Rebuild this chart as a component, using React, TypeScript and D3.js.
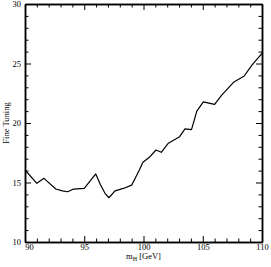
import React, { useEffect, useRef } from 'react'
import { select, scaleLinear, line, axisBottom, axisLeft, axisTop, axisRight, range } from 'd3'

const massValues = [
  90, 91.0, 91.6, 92.6, 93.15, 93.6, 94.1, 95.0, 95.97, 96.35, 96.75, 97.08, 97.6, 98.3, 99.0,
  99.3, 99.65, 99.95, 100.55, 101.05, 101.5, 102.1, 103.05, 103.5, 104.05, 104.5, 105.05, 106.0,
  106.6, 107.6, 108.5, 109.15, 110,
]
const fineTuning = [
  16.05, 14.93, 15.35, 14.45, 14.3, 14.22, 14.45, 14.5, 15.72, 14.85, 14.09, 13.72, 14.3, 14.5, 14.78,
  15.35, 16.05, 16.7, 17.17, 17.73, 17.54, 18.3, 18.85, 19.5, 19.45, 21.0, 21.78, 21.57,
  22.35, 23.42, 23.95, 24.87, 25.86,
]
const xMajorTicks = [90, 95, 100, 105, 110]
const yMajorTicks = [10, 15, 20, 25, 30]

const W = 271
const H = 267
const margin = { left: 25, top: 4, right: 9, bottom: 25 }
const FONT = '"Liberation Serif", "DejaVu Serif", serif'

export default function App() {
  const svgRef = useRef<SVGSVGElement>(null)

  useEffect(() => {
    const svg = select(svgRef.current)
    svg.selectAll('*').remove()
    const innerW = W - margin.left - margin.right
    const innerH = H - margin.top - margin.bottom

    const x = scaleLinear().domain([90, 110]).range([0, innerW])
    const y = scaleLinear().domain([10, 30]).range([innerH, 0])

    const g = svg.append('g').attr('transform', `translate(${margin.left},${margin.top})`)

    const minorX = range(90, 111, 1).filter((v) => !xMajorTicks.includes(v))
    const minorY = range(10, 31, 1).filter((v) => !yMajorTicks.includes(v))

    const styleAxis = (sel: any) => {
      sel.selectAll('path.domain').attr('stroke', '#000').attr('stroke-width', 1.5)
      sel.selectAll('.tick line').attr('stroke', '#000').attr('stroke-width', 1)
      sel.selectAll('text').attr('fill', '#000').style('font-family', FONT).style('font-size', '8.5px')
    }

    // bottom
    const bottom = g.append('g').attr('transform', `translate(0,${innerH})`)
    bottom.call(axisBottom(x).tickValues(xMajorTicks).tickSize(-6).tickSizeOuter(0).tickPadding(1.5).tickFormat((d: any) => `${d}`))
    bottom.call(styleAxis)
    bottom.selectAll('.tick text').filter((d: any) => d === 90).attr('dx', 4)
    const bottomMinor = g.append('g').attr('transform', `translate(0,${innerH})`)
    bottomMinor.call(axisBottom(x).tickValues(minorX).tickSize(-3.5).tickSizeOuter(0).tickFormat(() => ''))
    bottomMinor.call(styleAxis)

    // left
    const left = g.append('g')
    left.call(axisLeft(y).tickValues(yMajorTicks).tickSize(-6).tickSizeOuter(0).tickPadding(4).tickFormat((d: any) => `${d}`))
    left.call(styleAxis)
    const leftMinor = g.append('g')
    leftMinor.call(axisLeft(y).tickValues(minorY).tickSize(-3.5).tickSizeOuter(0).tickFormat(() => ''))
    leftMinor.call(styleAxis)

    // top
    const top = g.append('g')
    top.call(axisTop(x).tickValues(xMajorTicks).tickSize(-6).tickSizeOuter(0).tickFormat(() => ''))
    top.call(styleAxis)
    const topMinor = g.append('g')
    topMinor.call(axisTop(x).tickValues(minorX).tickSize(-3.5).tickSizeOuter(0).tickFormat(() => ''))
    topMinor.call(styleAxis)

    // right
    const right = g.append('g').attr('transform', `translate(${innerW},0)`)
    right.call(axisRight(y).tickValues(yMajorTicks).tickSize(-6).tickSizeOuter(0).tickFormat(() => ''))
    right.call(styleAxis)
    const rightMinor = g.append('g').attr('transform', `translate(${innerW},0)`)
    rightMinor.call(axisRight(y).tickValues(minorY).tickSize(-3.5).tickSizeOuter(0).tickFormat(() => ''))
    rightMinor.call(styleAxis)

    const myLine = line<number>()
      .x((d, i) => x(massValues[i]))
      .y((d) => y(d))
    g.append('path')
      .datum(fineTuning)
      .attr('d', myLine)
      .attr('fill', 'none')
      .attr('stroke', '#000')
      .attr('stroke-width', 1.2)
      .attr('stroke-linejoin', 'round')

    // x title
    const xt = svg
      .append('text')
      .attr('x', margin.left + innerW / 2)
      .attr('y', 259)
      .attr('text-anchor', 'middle')
      .style('font-family', FONT)
      .style('font-size', '8.5px')
      .attr('fill', '#000')
    xt.append('tspan').text('m')
    xt.append('tspan').attr('dy', 2).style('font-size', '6px').text('H')
    xt.append('tspan').attr('dy', -2).text(' [GeV]')

    // y title
    svg
      .append('text')
      .attr('transform', `translate(9,${margin.top + innerH / 2}) rotate(-90)`)
      .attr('text-anchor', 'middle')
      .style('font-family', FONT)
      .style('font-size', '8.5px')
      .attr('fill', '#000')
      .text('Fine Tuning')
  }, [])

  return (
    <svg ref={svgRef} width={W} height={H} style={{ position: 'absolute', left: 0, top: 0, background: '#fff' }} />
  )
}
